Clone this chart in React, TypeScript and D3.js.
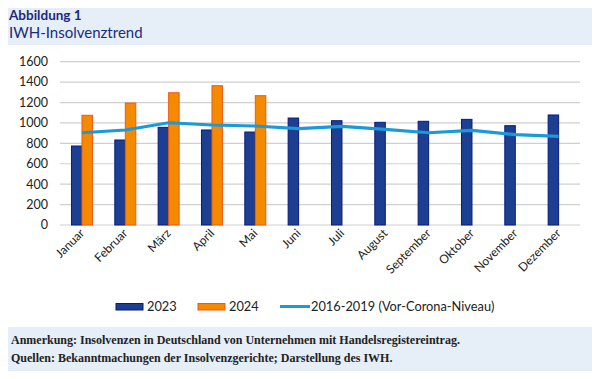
import React from "react";
import * as d3 from "d3";

const months = ["Januar","Februar","März","April","Mai","Juni","Juli","August","September","Oktober","November","Dezember"];
const values2023 = [774, 833, 957, 931, 911, 1048, 1022, 1006, 1016, 1035, 973, 1078];
const values2024 = [1075, 1195, 1296, 1365, 1267, null, null, null, null, null, null, null];
const baseline = [904, 931, 1002, 980, 970, 944, 967, 937, 904, 927, 885, 869];
const yTicks = [0, 200, 400, 600, 800, 1000, 1200, 1400, 1600];
const seriesNames = ["2023", "2024", "2016-2019 (Vor-Corona-Niveau)"];

const W = 600, H = 379;
const FONT = "Lato, 'Open Sans', sans-serif";

export default function App() {
  const x = d3.scaleBand<string>().domain(months).range([60.3, 580.3]).paddingInner(0);
  const y = d3.scaleLinear().domain([0, 1600]).range([225, 61.7]);
  const bw = 10.5;
  const line = d3.line<number>()
    .x((_, i) => (x(months[i]) as number) + x.bandwidth() / 2)
    .y((d) => y(d))
    .curve(d3.curveLinear);

  return (
    <div style={{ margin: -8 }}>
      <svg width={W} height={H} style={{ display: "block" }}>
        <rect x={0} y={0} width={W} height={H} fill="#e6eef8" />
        <rect x={8} y={45} width={584} height={282} fill="#ffffff" />
        <text x={9} y={20} fontFamily={FONT} fontWeight={700} fontSize={13.5} fill="#1b2a7c">Abbildung 1</text>
        <text x={9} y={38} fontFamily={FONT} fontSize={15} fill="#1b2a7c">IWH-Insolvenztrend</text>

        {yTicks.map((t) => (
          <g key={t}>
            <line x1={60} x2={580} y1={y(t)} y2={y(t)} stroke="#d0d0d0" strokeWidth={1.2} />
            <text x={48} y={y(t)} dy="0.35em" textAnchor="end" fontFamily={FONT} fontSize={12.5} fill="#222">{t}</text>
          </g>
        ))}

        {months.map((m, i) => {
          const c = (x(m) as number) + x.bandwidth() / 2;
          const v3 = values2023[i];
          const v4 = values2024[i];
          return (
            <g key={m}>
              <rect x={c - bw} y={y(v3)} width={bw} height={y(0) - y(v3)} fill="#1d3f91" stroke="#0b1a7e" strokeWidth={1} />
              {v4 != null && (
                <rect x={c} y={y(v4)} width={bw} height={y(0) - y(v4)} fill="#f38a00" stroke="#f0581a" strokeWidth={1} />
              )}
              <text transform={`translate(${c + 3},${234}) rotate(-45)`} textAnchor="end" fontFamily={FONT} fontSize={12} fill="#222">{m}</text>
            </g>
          );
        })}

        <path d={line(baseline) as string} fill="none" stroke="#1a9ad8" strokeWidth={3.2} strokeLinejoin="round" />

        <g fontFamily={FONT} fontSize={12.8} fill="#222">
          <rect x={116} y={303.5} width={27} height={6.5} fill="#1d3f91" stroke="#0b1a7e" strokeWidth={1} />
          <text x={147} y={311}>{seriesNames[0]}</text>
          <rect x={198} y={303.5} width={27} height={6.5} fill="#f38a00" stroke="#f0581a" strokeWidth={1} />
          <text x={229} y={311}>{seriesNames[1]}</text>
          <line x1={280} x2={310} y1={306.5} y2={306.5} stroke="#1a9ad8" strokeWidth={3} />
          <text x={311} y={311}>{seriesNames[2]}</text>
        </g>

        <g fontFamily="'Liberation Serif', serif" fontSize={12} fontWeight={700} fill="#222">
          <text x={11} y={344}>Anmerkung: Insolvenzen in Deutschland von Unternehmen mit Handelsregistereintrag.</text>
          <text x={11} y={361.5}>Quellen: Bekanntmachungen der Insolvenzgerichte; Darstellung des IWH.</text>
        </g>
      </svg>
    </div>
  );
}
